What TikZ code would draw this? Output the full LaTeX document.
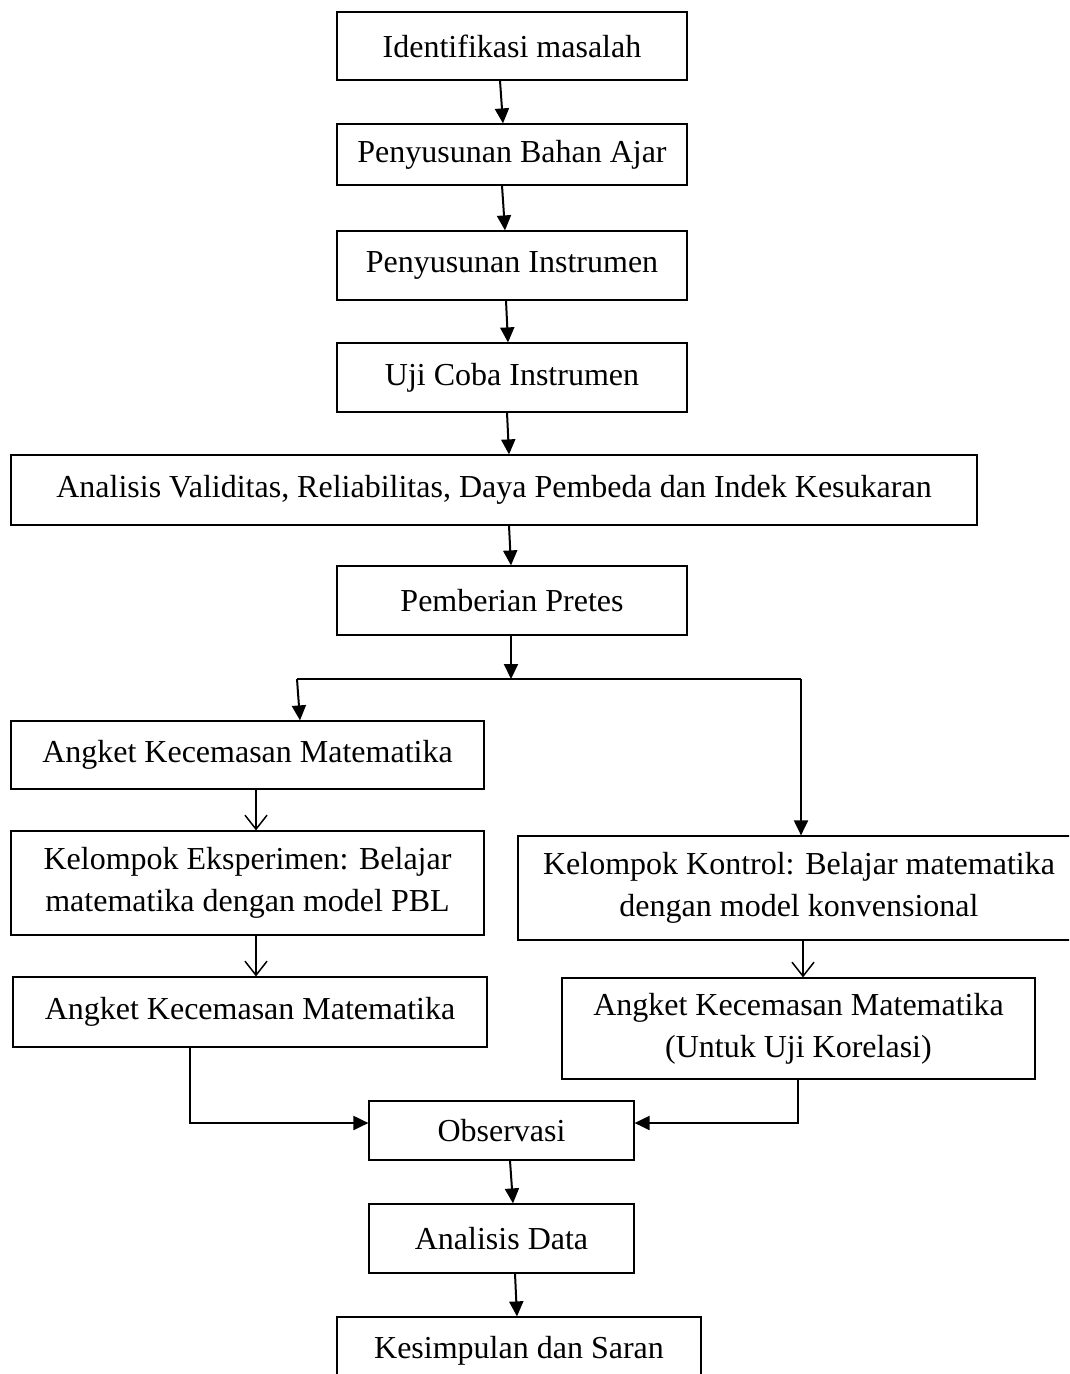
\documentclass[tikz,border=0pt]{standalone}
\usepackage{fontspec}
\setmainfont{Liberation Serif}
\usetikzlibrary{arrows.meta}

\begin{document}
\begin{tikzpicture}[x=1pt, y=-1pt,
    box/.style={draw, line width=1.2pt, inner sep=0pt, align=center,
      font=\fontsize{32}{42}\selectfont},
    arr/.style={line width=2pt, -{Triangle[length=15pt, width=14pt]}},
    openarr/.style={line width=1.5pt, -{Straight Barb[length=14pt, width=22pt, line width=1.5pt]}}]
    \clip (0,0) rectangle (1069,1374);

    % main column
    \node[box, minimum width=350pt, minimum height=68pt] (ident) at (512,46) {Identifikasi masalah};
    \node[box, minimum width=350pt, minimum height=61pt] (bahan) at (512,154.5) {Penyusunan Bahan Ajar};
    \node[box, minimum width=350pt, minimum height=69pt] (instr) at (512,265.5) {Penyusunan Instrumen};
    \node[box, minimum width=350pt, minimum height=69pt] (ujicoba) at (512,377.5) {Uji Coba Instrumen};
    \node[box, minimum width=966pt, minimum height=70pt] (validitas) at (494,490)
    {Analisis Validitas, Reliabilitas, Daya Pembeda dan Indek Kesukaran};
    \node[box, minimum width=350pt, minimum height=69pt] (pretes) at (512,600.5) {Pemberian Pretes};

    % two groups
    \node[box, minimum width=473pt, minimum height=68pt] (angketA) at (247.5,755) {Angket Kecemasan Matematika};
    \node[box, minimum width=473pt, minimum height=104pt] (eksp) at (247.5,883)
    {Kelompok Eksperimen: Belajar\\matematika dengan model PBL};
    \node[box, minimum width=474pt, minimum height=70pt] (angketB) at (250,1012) {Angket Kecemasan Matematika};
    \node[box, minimum width=562pt, minimum height=104pt] (kontrol) at (799,888)
    {Kelompok Kontrol: Belajar matematika\\dengan model konvensional};
    \node[box, minimum width=473pt, minimum height=101pt] (angketC) at (798.5,1028.5)
    {Angket Kecemasan Matematika\\(Untuk Uji Korelasi)};

    \node[box, minimum width=265pt, minimum height=59pt] (obs) at (501.5,1130.5) {Observasi};
    \node[box, minimum width=265pt, minimum height=69pt] (data) at (501.5,1238.5) {Analisis Data};
    \node[box, minimum width=364pt, minimum height=68pt] (simpul) at (519,1351) {Kesimpulan dan Saran};

    \coordinate (split) at (511,679);
    \coordinate (splitL) at (297,679);
    \coordinate (splitR) at (801,679);

    \draw[arr] ([xshift=-12pt]ident.south) -- ([xshift=-9pt]bahan.north);
    \draw[arr] ([xshift=-10pt]bahan.south) -- ([xshift=-7pt]instr.north);
    \draw[arr] ([xshift=-6pt]instr.south) -- ([xshift=-4pt]ujicoba.north);
    \draw[arr] ([xshift=-5pt]ujicoba.south) -- ([xshift=15pt]validitas.north);
    \draw[arr] ([xshift=15pt]validitas.south) -- ([xshift=-1pt]pretes.north);
    \draw[arr] ([xshift=-1pt]pretes.south) -- (split);

    \draw[line width=1.5pt] (splitL) -- (splitR);
    \draw[arr] (splitL) -- ([xshift=52.5pt]angketA.north);
    \draw[arr] (splitR) -- ([xshift=2pt]kontrol.north);

    \draw[openarr] ([xshift=8.5pt]angketA.south) -- ([xshift=8.5pt]eksp.north);
    \draw[openarr] ([xshift=8.5pt]eksp.south) -- ([xshift=6pt]angketB.north);
    \draw[openarr] ([xshift=4pt]kontrol.south) -- ([xshift=4.5pt]angketC.north);

    \draw[arr] ([xshift=-60pt]angketB.south) |- ([yshift=7.5pt]obs.west);
    \draw[arr] ([xshift=-0.5pt]angketC.south) |- ([yshift=7.5pt]obs.east);

    \draw[arr] ([xshift=8.5pt]obs.south) -- ([xshift=11.5pt]data.north);
    \draw[arr] ([xshift=13.5pt]data.south) -- ([xshift=-2pt]simpul.north);

\end{tikzpicture}
\end{document}
